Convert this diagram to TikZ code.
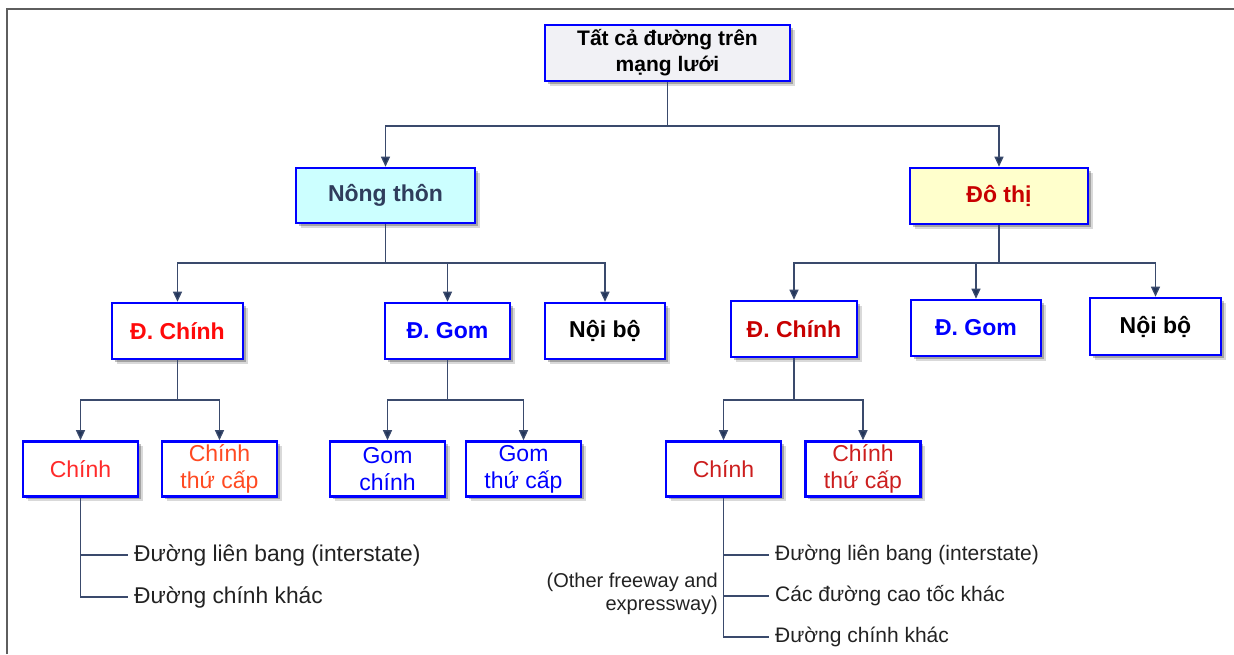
\documentclass[tikz,border=0pt]{standalone}
\usepackage{fontspec}
\setmainfont{Liberation Sans}
\usetikzlibrary{arrows.meta,shadows}

\definecolor{boxblue}{HTML}{0000FF}
\definecolor{conncol}{HTML}{3A4A6C}
\definecolor{tipcol}{HTML}{22355A}
\definecolor{framegray}{HTML}{5E5E5E}
\definecolor{topfill}{HTML}{F1F1F5}
\definecolor{cyanfill}{HTML}{CCFFFF}
\definecolor{yellowfill}{HTML}{FFFFCC}
\definecolor{slatetext}{HTML}{2F3D5C}
\definecolor{darkred}{HTML}{C80000}
\definecolor{brightred}{HTML}{FF0A0A}
\definecolor{lightred}{HTML}{FF2A2A}
\definecolor{orangered}{HTML}{FF4A22}
\definecolor{midred}{HTML}{CC1E1E}
\definecolor{textgray}{HTML}{222222}

\newcommand{\rootfont}{\fontsize{21}{26}\selectfont\bfseries}
\newcommand{\boxfont}{\fontsize{23}{27}\selectfont}
\newcommand{\leftlistfont}{\fontsize{22.8}{26}\selectfont}
\newcommand{\rightlistfont}{\fontsize{21}{24}\selectfont}

\tikzset{
  nodebox/.style={draw=boxblue, line width=2.6pt, fill=white, align=center,
    inner sep=2pt, font=\boxfont,
    drop shadow={shadow xshift=4.5pt, shadow yshift=-4.5pt, opacity=0.15, fill=black},
    drop shadow={shadow xshift=2.5pt, shadow yshift=-2.5pt, opacity=0.25, fill=black}},
  headbox/.style={nodebox, font=\boxfont\bfseries},
  leafbox/.style={nodebox, minimum width=115pt, minimum height=55pt},
  conn/.style={draw=conncol, line width=1.3pt},
  arr/.style={conn, -{Triangle[length=10pt, width=9pt, fill=tipcol]}},
  treetext/.style={anchor=west, inner xsep=6pt, inner ysep=0pt, text=textgray},
}

\begin{document}
\begin{tikzpicture}[x=1pt, y=-1pt]
  \useasboundingbox (0,0) rectangle (1234,654);

  % outer frame (top and left edges)
  \draw[framegray, line width=2pt] (7,654) -- (7,9) -- (1234,9);

  % root
  \node[headbox, font=\rootfont, fill=topfill, minimum width=245pt, minimum height=56pt]
    (root) at (667.5,53) {Tất cả đường trên\\mạng lưới};

  % first level
  \node[headbox, fill=cyanfill, text=slatetext, minimum width=179pt, minimum height=55pt]
    (rural) at (385.5,195.5) {Nông thôn};
  \node[headbox, fill=yellowfill, text=darkred, minimum width=178pt, minimum height=56pt]
    (urban) at (999,196) {Đô thị};

  % second level, rural
  \node[headbox, text=brightred, minimum width=131pt, minimum height=56pt]
    (rmain) at (177.5,331) {Đ. Chính};
  \node[headbox, text=boxblue, minimum width=125pt, minimum height=56pt]
    (rgom) at (447.5,331) {Đ. Gom};
  \node[headbox, text=black, minimum width=120pt, minimum height=56pt]
    (rlocal) at (605,331) {Nội bộ};

  % second level, urban
  \node[headbox, text=darkred, minimum width=126pt, minimum height=56pt]
    (umain) at (794,329) {Đ. Chính};
  \node[headbox, text=boxblue, minimum width=130pt, minimum height=56pt]
    (ugom) at (976,328) {Đ. Gom};
  \node[headbox, text=black, minimum width=131pt, minimum height=57pt]
    (ulocal) at (1155.5,326.5) {Nội bộ};

  % third level
  \node[leafbox, text=lightred] (rm1) at (80.5,469) {Chính};
  \node[leafbox, text=orangered] (rm2) at (219.5,469) {Chính\\thứ cấp};
  \node[leafbox, text=boxblue] (rg1) at (387.5,469) {Gom\\chính};
  \node[leafbox, text=boxblue] (rg2) at (523.5,469) {Gom\\thứ cấp};
  \node[leafbox, text=midred] (um1) at (723.5,469) {Chính};
  \node[leafbox, text=midred] (um2) at (863,469) {Chính\\thứ cấp};

  % bus levels
  \coordinate (bus0) at (0,126);
  \coordinate (bus1) at (0,263);
  \coordinate (bus2) at (0,400);

  % connectors
  \draw[conn] (root.south) -- (root.south |- bus0);
  \draw[arr] (root.south |- bus0) -| (rural.north);
  \draw[arr] (root.south |- bus0) -| (urban.north);

  \draw[conn] (rural.south) -- (rural.south |- bus1);
  \draw[arr] (rural.south |- bus1) -| (rmain.north);
  \draw[arr] (rural.south |- bus1) -| (rgom.north);
  \draw[arr] (rural.south |- bus1) -| (rlocal.north);

  \draw[conn] (urban.south) -- (urban.south |- bus1);
  \draw[arr] (urban.south |- bus1) -| (umain.north);
  \draw[arr] (urban.south |- bus1) -| (ugom.north);
  \draw[arr] (urban.south |- bus1) -| (ulocal.north);

  \draw[conn] (rmain.south) -- (rmain.south |- bus2);
  \draw[arr] (rmain.south |- bus2) -| (rm1.north);
  \draw[arr] (rmain.south |- bus2) -| (rm2.north);

  \draw[conn] (rgom.south) -- (rgom.south |- bus2);
  \draw[arr] (rgom.south |- bus2) -| (rg1.north);
  \draw[arr] (rgom.south |- bus2) -| (rg2.north);

  \draw[conn] (umain.south) -- (umain.south |- bus2);
  \draw[arr] (umain.south |- bus2) -| (um1.north);
  \draw[arr] (umain.south |- bus2) -| (um2.north);

  % rural main road list
  \node[treetext, font=\leftlistfont] (rt1) at (128,555) {Đường liên bang (interstate)};
  \node[treetext, font=\leftlistfont] (rt2) at (128,597) {Đường chính khác};
  \draw[conn] (rm1.south) |- (rt1.west);
  \draw[conn] (rm1.south) |- (rt2.west);

  % urban main road list
  \node[treetext, font=\rightlistfont] (ut1) at (769,555) {Đường liên bang (interstate)};
  \node[treetext, font=\rightlistfont] (ut2) at (769,596) {Các đường cao tốc khác};
  \node[treetext, font=\rightlistfont] (ut3) at (769,637) {Đường chính khác};
  \draw[conn] (um1.south) |- (ut1.west);
  \draw[conn] (um1.south) |- (ut2.west);
  \draw[conn] (um1.south) |- (ut3.west);

  \node[anchor=east, align=right, inner sep=0pt, text=textgray,
        font=\fontsize{20}{23.5}\selectfont]
    (note) at (718,594) {(Other freeway and\\expressway)};
\end{tikzpicture}
\end{document}
